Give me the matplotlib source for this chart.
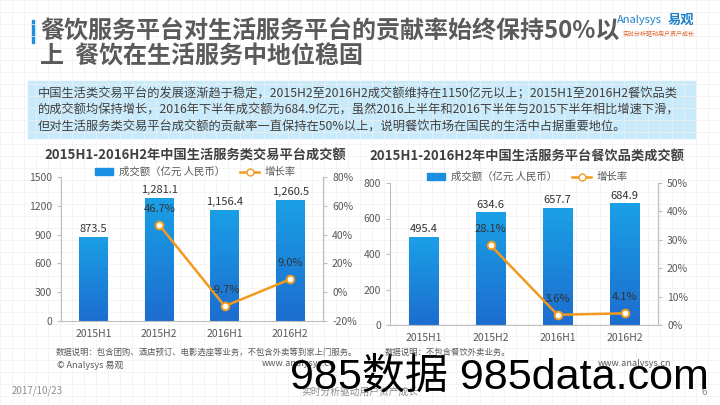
import numpy as np
import matplotlib
matplotlib.use('Agg')
import matplotlib.pyplot as plt
from matplotlib.patches import Rectangle, Patch
from matplotlib.lines import Line2D

plt.rcParams['font.family'] = ['Noto Sans CJK SC', 'DejaVu Sans']

# data
categories = ['2015H1', '2015H2', '2016H1', '2016H2']
life_amount = [873.5, 1281.1, 1156.4, 1260.5]
life_growth = [np.nan, 46.7, -9.7, 9.0]
food_amount = [495.4, 634.6, 657.7, 684.9]
food_growth = [np.nan, 28.1, 3.6, 4.1]

life_title = '2015H1-2016H2年中国生活服务类交易平台成交额'
food_title = '2015H1-2016H2年中国生活服务平台餐饮品类成交额'
life_note = '数据说明：包含团购、酒店预订、电影选座等业务，不包含外卖等到家上门服务。'
food_note = '数据说明：不包含餐饮外卖业务。'

GRAY = '#595959'
SPINE = '#bfbfbf'
ORANGE = '#f39a1e'
W, H = 720, 405

fig = plt.figure(figsize=(7.2, 4.05), dpi=100)

# faint graph-paper background
bg = fig.add_axes([0, 0, 1, 1], zorder=-10)
bg.set_xlim(0, W)
bg.set_ylim(H, 0)
bg.axis('off')
for gx in np.arange(0, W, 12):
    bg.axvline(gx, color='#f0f0f0', lw=0.5)
for gy in np.arange(0, H, 12):
    bg.axhline(gy, color='#f0f0f0', lw=0.5)

# header
bg.add_patch(Rectangle((32, 20), 2.2, 23, color='#1e8fe0'))
bg.text(40, 31, '餐饮服务平台对生活服务平台的贡献率始终保持50%以', fontsize=17.3, fontweight='bold',
        color='#5a5a5a', va='center', ha='left')
bg.text(40, 57, '上  餐饮在生活服务中地位稳固', fontsize=17.3, fontweight='bold',
        color='#5a5a5a', va='center', ha='left')
bg.text(617, 20, 'Analysys', fontsize=8, style='italic', color='#1e7fc8', va='center', ha='left')
bg.text(668, 20, '易观', fontsize=9.5, fontweight='bold', color='#1e7fc8', va='center', ha='left')
bg.text(695, 34, '实时分析驱动用户资产成长', fontsize=4.3, color='#e0602a', va='center', ha='right')

# summary box
bg.add_patch(Rectangle((28, 81), 667, 57, color='#c8eafa', zorder=1))
summary = ['中国生活类交易平台的发展逐渐趋于稳定，2015H2至2016H2成交额维持在1150亿元以上；2015H1至2016H2餐饮品类',
           '的成交额均保持增长，2016年下半年成交额为684.9亿元，虽然2016上半年和2016下半年与2015下半年相比增速下滑，',
           '但对生活服务类交易平台成交额的贡献率一直保持在50%以上，说明餐饮市场在国民的生活中占据重要地位。']
for i, line in enumerate(summary):
    bg.text(38, 94 + i * 16.5, line, fontsize=8.8, color='#404040', va='center', ha='left', zorder=2)


def gradient_bars(ax, x, vals, width):
    bars = ax.bar(x, vals, width=width, color='none', zorder=2)
    grad = np.linspace(0, 1, 100).reshape(-1, 1)
    cmap = matplotlib.colors.LinearSegmentedColormap.from_list('b', ['#1d6dcf', '#1aa0e6'])
    for b in bars:
        im = ax.imshow(grad, cmap=cmap, extent=[b.get_x(), b.get_x() + b.get_width(), 0, b.get_height()],
                       aspect='auto', origin='lower', zorder=2)
        im.set_clip_path(b)
    return bars


def draw_chart(rect, amount, growth, title, note, ylim, yticks, rlim, rticks, comma,
               title_x, title_y, legend_y):
    ax = fig.add_axes(rect)
    ax.patch.set_alpha(0)
    x = np.arange(len(categories))
    gradient_bars(ax, x, amount, 0.44)
    ax.set_xlim(-0.5, len(categories) - 0.5)
    ax.set_ylim(*ylim)
    ax.set_yticks(yticks)
    ax.set_xticks(x)
    ax.set_xticklabels(categories)
    for v, xi in zip(amount, x):
        lab = f'{v:,.1f}' if comma else f'{v:.1f}'
        ax.annotate(lab, (xi, v), xytext=(0, 2), textcoords='offset points',
                    ha='center', va='bottom', fontsize=8, color='#333333')
    ax.spines['top'].set_visible(False)
    for s in ['left', 'bottom', 'right']:
        ax.spines[s].set_color(SPINE)
    ax.tick_params(colors=GRAY, labelsize=7.5, length=3, color=SPINE)
    ax.tick_params(axis='x', length=0, pad=6)

    ax2 = ax.twinx()
    ax2.plot(x, growth, color=ORANGE, lw=1.8, marker='o', ms=5.5, mfc='white', mec=ORANGE, mew=1.4, zorder=5)
    ax2.set_ylim(*rlim)
    ax2.set_yticks(rticks)
    ax2.set_yticklabels([f'{t}%' for t in rticks])
    for s in ['top', 'left', 'bottom']:
        ax2.spines[s].set_visible(False)
    ax2.spines['right'].set_color(SPINE)
    ax2.tick_params(colors=GRAY, labelsize=7.5, length=3, color=SPINE)
    for g, xi in zip(growth, x):
        if not np.isnan(g):
            ax2.annotate(f'{g:.1f}%', (xi, g), xytext=(0, 8), textcoords='offset points',
                         ha='center', va='bottom', fontsize=8, color='#333333', zorder=6)

    fig.text(title_x, title_y, title, fontsize=9.5, fontweight='bold', color='#404040',
             ha='center', va='center')
    handles = [Patch(color='#1a8ee0'),
               Line2D([0], [0], color=ORANGE, lw=1.8, marker='o', ms=5, mfc='white', mec=ORANGE)]
    fig.legend(handles, ['成交额（亿元 人民币）', '增长率'], loc='center', ncol=2, frameon=False,
               bbox_to_anchor=(title_x, legend_y), fontsize=7.5, labelcolor=GRAY,
               handlelength=1.8, handleheight=0.6, columnspacing=1.5, handletextpad=0.5,
               borderpad=0)
    fig.text(rect[0] - 0.008, 0.131, note, fontsize=6, color=GRAY, ha='left', va='center')
    return ax


draw_chart([61 / W, 1 - 321 / H, 262 / W, 144 / H], life_amount, life_growth, life_title, life_note,
           (0, 1500), np.arange(0, 1501, 300), (-20, 80), np.arange(-20, 81, 20), True,
           195 / W, 1 - 156 / H, 1 - 172 / H)
draw_chart([390 / W, 1 - 325 / H, 268 / W, 142 / H], food_amount, food_growth, food_title, food_note,
           (0, 800), np.arange(0, 801, 200), (0, 50), np.arange(0, 51, 10), False,
           527 / W, 1 - 157 / H, 1 - 177 / H)

# footers
bg.text(57, 365, '© Analysys 易观', fontsize=6.5, color=GRAY, va='center', ha='left')
bg.text(262, 363, 'www.analysys.cn', fontsize=6.5, color=GRAY, va='center', ha='left')
bg.text(598, 364, 'www.analysys.cn', fontsize=6.5, color=GRAY, va='center', ha='left')
bg.text(12, 391, '2017/10/23', fontsize=7, color='#8c8c8c', va='center', ha='left')
bg.text(360, 392, '实时分析驱动用户资产成长', fontsize=7, color='#8c8c8c', va='center', ha='center')
bg.text(702, 392, '6', fontsize=7, color='#8c8c8c', va='center', ha='left')
bg.text(709, 377, '985数据 985data.com', fontsize=31, color='black', va='center', ha='right',
        family=['Liberation Sans', 'Noto Sans CJK SC'], zorder=20)

fig.savefig('out.png', dpi=100)
